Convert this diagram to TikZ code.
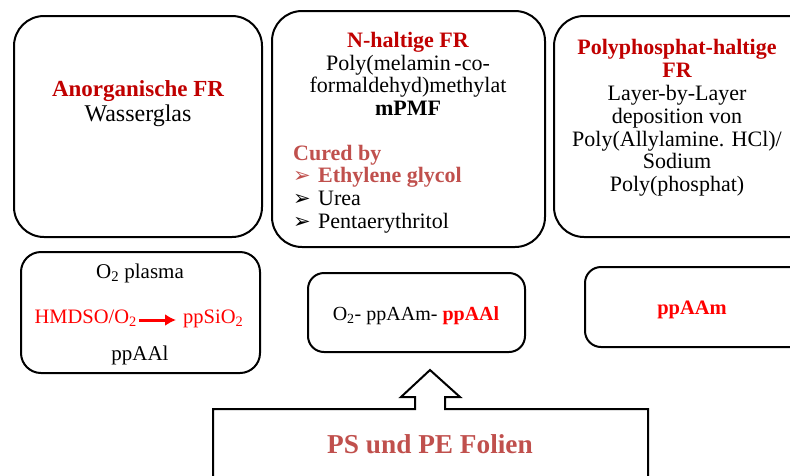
\documentclass[tikz,border=0pt]{standalone}
\usepackage{fontspec}
\usetikzlibrary{arrows.meta}
\setmainfont{Liberation Serif}
\newfontfamily\dingfont{DejaVu Sans}
\definecolor{frred}{HTML}{C00000}
\definecolor{curedred}{HTML}{C0504D}
\newcommand{\pfeil}{\makebox[25pt][l]{\dingfont\fontsize{21}{21}\selectfont ➢}}
\tikzset{
  frbox/.style={line width=2pt, rounded corners=30pt},
  smallbox/.style={line width=2pt, rounded corners=16pt},
  txt/.style={inner sep=1pt, align=center},
}
\begin{document}
\begin{tikzpicture}[x=1pt, y=-1pt]
  \useasboundingbox (0,0) rectangle (790,475);
  \clip (0,0) rectangle (790,475);
  % flame retardant classes
  \draw[frbox] (14,16) rectangle (262,237);
  \draw[frbox] (272,11) rectangle (545,247);
  \draw[frbox] (554,16) rectangle (830,237);
  % plasma layers
  \draw[smallbox, rounded corners=20pt] (21,252) rectangle (260,373);
  \draw[smallbox] (308,273) rectangle (525,352);
  \draw[smallbox] (585,267) rectangle (830,347);
  % substrate with arrow
  \draw[line width=2pt] (213,480) -- (213,409) -- (415,409) -- (415,397) -- (401,397)
    -- (430,370) -- (460,397) -- (445,397) -- (445,409) -- (648,409) -- (648,480);

  \node[txt, font=\fontsize{23}{25}\selectfont] (anorg) at (138,104)
    {\textcolor{frred}{\bfseries Anorganische FR}\\{\fontsize{24}{25}\selectfont Wasserglas}};
  \node[txt, font=\fontsize{22}{22.6}\selectfont] (nhaltig) at (408,74)
    {\textcolor{frred}{\bfseries N-haltige FR}\\Poly(melamin\,-co-\\formaldehyd)methylat\\\bfseries mPMF};
  \node[txt, align=left, anchor=west, font=\fontsize{22}{22.6}\selectfont] (cured) at (292,189)
    {\textcolor{curedred}{\bfseries Cured by}\\
     \textcolor{curedred}{\pfeil\bfseries Ethylene glycol}\\
     \pfeil Urea\\
     \pfeil Pentaerythritol};
  \node[txt, font=\fontsize{22}{22.8}\selectfont] (polyphos) at (677,118)
    {\textcolor{frred}{\bfseries Polyphosphat-haltige}\\\textcolor{frred}{\bfseries FR}\\Layer-by-Layer\\deposition von\\Poly(Allylamine. HCl)/\\Sodium\\Poly(phosphat)};

  \node[txt, anchor=base, font=\fontsize{21}{21}\selectfont] (plasma) at (140,278) {O\textsubscript{2} plasma};
  \node[txt, anchor=base east, text=red, font=\fontsize{20.5}{20.5}\selectfont] (hmdso) at (138,323) {HMDSO/O\textsubscript{2}};
  \node[txt, anchor=base west, text=red, font=\fontsize{20.5}{20.5}\selectfont] (ppsio) at (182,323) {ppSiO\textsubscript{2}};
  \node[txt, anchor=base, font=\fontsize{21}{21}\selectfont] (ppaal) at (140,360) {ppAAl};
  \draw[red, line width=3pt, -{Latex[length=11pt,width=12pt]}, shorten <=1pt, shorten >=6pt]
    ([yshift=3pt]hmdso.base east) -- ([yshift=3pt]ppsio.base west);

  \node[txt, anchor=base, font=\fontsize{20}{20}\selectfont] (stack) at (416,320)
    {O\textsubscript{2}- ppAAm- \textcolor{red}{\bfseries ppAAl}};
  \node[txt, anchor=base, text=red, font=\bfseries\fontsize{20.5}{20.5}\selectfont] (ppaam) at (692,314) {ppAAm};
  \node[txt, anchor=base, text=curedred, font=\bfseries\fontsize{27.3}{27.3}\selectfont] (folien) at (430,453) {PS und PE Folien};
\end{tikzpicture}
\end{document}
